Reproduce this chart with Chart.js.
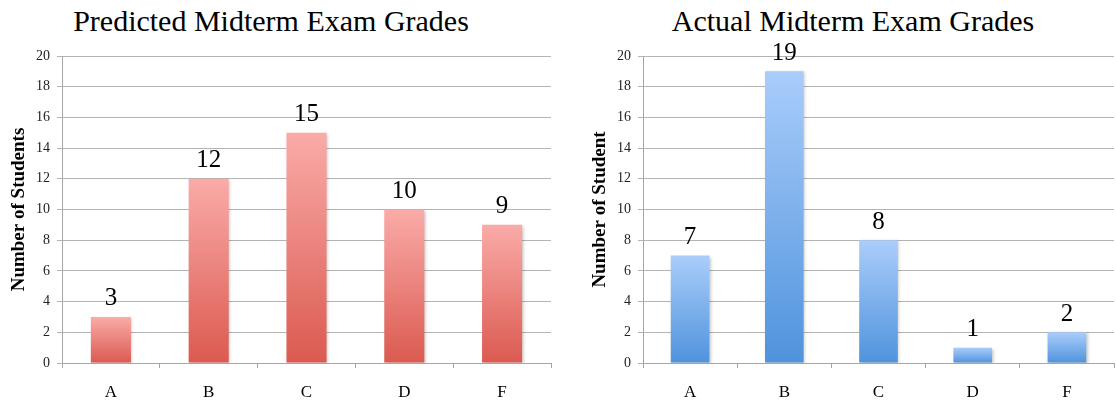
<!DOCTYPE html>
<html>
<head>
<meta charset="utf-8">
<script src="https://cdn.jsdelivr.net/npm/chart.js@4.4.1/dist/chart.umd.min.js"></script>
<style>
  html, body { margin: 0; padding: 0; background: #fff; overflow: hidden; }
  body { width: 1116px; height: 400px; position: relative; }
  .title { position: absolute; top: 6px; font-family: "Liberation Serif", Tinos, "Times New Roman", Times, serif;
           font-size: 30px; line-height: 30px; color: #000; text-align: center; white-space: nowrap; }
  .box { position: absolute; top: 0; height: 400px; }
</style>
</head>
<body>
<div class="title" style="left:0;width:542px;">Predicted Midterm Exam Grades</div>
<div class="title" style="left:604px;width:498px;">Actual Midterm Exam Grades</div>
<div class="box" style="left:0;width:558px;"><canvas id="predicted"></canvas></div>
<div class="box" style="left:581px;width:540px;"><canvas id="actual"></canvas></div>
<script>
// Grade categories and student counts
const grades = ['A', 'B', 'C', 'D', 'F'];
const predictedCounts = [3, 12, 15, 10, 9];
const actualCounts = [7, 19, 8, 1, 2];
const yTicks = [0, 2, 4, 6, 8, 10, 12, 14, 16, 18, 20];

const SERIF = '"Liberation Serif", Tinos, "Times New Roman", Times, serif';

// Vertical gradient per bar, from the bar's top to the zero line
function barGradient(light, dark) {
  return (c) => {
    const chart = c.chart;
    if (!chart.chartArea || c.type !== 'data') return dark;
    const y = chart.scales.y;
    const top = y.getPixelForValue(c.raw);
    const base = y.getPixelForValue(0);
    if (!isFinite(top) || !isFinite(base) || top === base) return dark;
    const g = chart.ctx.createLinearGradient(0, top, 0, base);
    g.addColorStop(0, light);
    g.addColorStop(1, dark);
    return g;
  };
}

// Soft drop shadow behind the bars, then value labels above them
const barDecor = {
  id: 'barDecor',
  beforeDatasetsDraw(chart) {
    const ctx = chart.ctx;
    ctx.save();
    ctx.shadowColor = 'rgba(0,0,0,0.22)';
    ctx.shadowBlur = 3;
    ctx.shadowOffsetX = 1.5;
    ctx.shadowOffsetY = 1;
  },
  afterDatasetsDraw(chart) {
    const ctx = chart.ctx;
    ctx.restore();
    const meta = chart.getDatasetMeta(0);
    const data = chart.data.datasets[0].data;
    ctx.save();
    ctx.font = '25px ' + SERIF;
    ctx.fillStyle = '#000';
    ctx.textAlign = 'center';
    ctx.textBaseline = 'alphabetic';
    meta.data.forEach((bar, i) => {
      ctx.fillText(String(data[i]), bar.x, bar.y - 11.5);
    });
    ctx.restore();
  }
};

function makeChart(id, values, light, dark, yTitle) {
  return new Chart(document.getElementById(id), {
    type: 'bar',
    data: {
      labels: grades,
      datasets: [{
        data: values,
        backgroundColor: barGradient(light, dark),
        borderWidth: 0,
        categoryPercentage: 1,
        barPercentage: 0.41
      }]
    },
    options: {
      responsive: true,
      maintainAspectRatio: false,
      animation: false,
      events: [],
      layout: { padding: { top: 56, right: 7, bottom: 0, left: 0 } },
      plugins: { legend: { display: false }, tooltip: { enabled: false }, title: { display: false } },
      scales: {
        x: {
          offset: true,
          grid: { display: true, drawOnChartArea: false, drawTicks: true, tickLength: 5, offset: true, color: '#a6a6a6' },
          border: { display: true, color: '#a6a6a6' },
          ticks: { color: '#000', padding: 14, font: { family: SERIF, size: 17 } },
          afterFit(scale) { scale.height = 37; }
        },
        y: {
          min: 0,
          max: 20,
          afterBuildTicks(scale) { scale.ticks = yTicks.map(v => ({ value: v })); },
          grid: { color: '#b3b3b3', tickLength: 5, drawTicks: true },
          border: { display: true, color: '#a6a6a6' },
          ticks: { color: '#222', padding: 7, font: { family: SERIF, size: 14 } },
          title: { display: true, text: yTitle, color: '#000', padding: { top: 8, bottom: 0 },
                   font: { family: SERIF, size: 19, weight: 'bold' } },
          afterFit(scale) { scale.width = 62; }
        }
      }
    },
    plugins: [barDecor]
  });
}

makeChart('predicted', predictedCounts, '#faaba8', '#db5a50', 'Number of Students');
makeChart('actual', actualCounts, '#aacdfb', '#4f93dc', 'Number of Student');
</script>
</body>
</html>
